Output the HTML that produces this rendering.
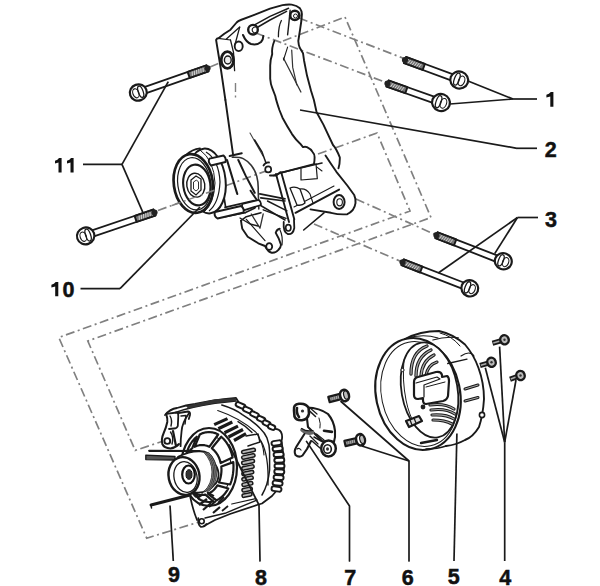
<!DOCTYPE html>
<html><head><meta charset="utf-8"><style>
html,body{margin:0;padding:0;background:#fff;}
svg{display:block;}
text{font-family:"Liberation Sans",sans-serif;font-weight:bold;font-size:21.5px;fill:#111;stroke:#111;stroke-width:0.5px;}
</style></head><body>
<svg width="600" height="586" viewBox="0 0 600 586">
<rect width="600" height="586" fill="#fff"/>
<path d="M283.0,41.0 L345.0,17.0 L431.0,217.5 L87.8,341.0 L135.2,450.4 L162.0,441.5" stroke="#808080" stroke-width="1.7" fill="none" stroke-dasharray="9 3.5 2 3.5" stroke-linecap="butt" stroke-linejoin="miter"/>
<path d="M318.0,154.0 L377.0,133.0 L410.0,211.0 L58.8,337.5 L146.7,538.2 L199.0,522.0" stroke="#808080" stroke-width="1.7" fill="none" stroke-dasharray="9 3.5 2 3.5" stroke-linecap="butt" stroke-linejoin="miter"/>
<path d="M299.0,18.0 L404.0,58.5" stroke="#808080" stroke-width="1.7" fill="none" stroke-dasharray="9 3.5 2 3.5" stroke-linecap="butt" stroke-linejoin="miter"/>
<path d="M256.0,33.0 L386.0,82.5" stroke="#808080" stroke-width="1.7" fill="none" stroke-dasharray="9 3.5 2 3.5" stroke-linecap="butt" stroke-linejoin="miter"/>
<path d="M356.0,199.0 L435.0,234.5" stroke="#808080" stroke-width="1.7" fill="none" stroke-dasharray="9 3.5 2 3.5" stroke-linecap="butt" stroke-linejoin="miter"/>
<path d="M314.0,224.0 L401.0,261.5" stroke="#808080" stroke-width="1.7" fill="none" stroke-dasharray="9 3.5 2 3.5" stroke-linecap="butt" stroke-linejoin="miter"/>
<path d="M158.0,210.5 L266.0,171.0" stroke="#808080" stroke-width="1.7" fill="none" stroke-dasharray="9 3.5 2 3.5" stroke-linecap="butt" stroke-linejoin="miter"/>
<path d="M210.0,67.0 L222.0,62.0" stroke="#808080" stroke-width="1.7" fill="none" stroke-dasharray="9 3.5 2 3.5" stroke-linecap="butt" stroke-linejoin="miter"/>
<path d="M225.4,100 L221,70 L216.1,40 Q217,38 218.5,38.2 L224.3,33.8 L230.5,29.7 L236.6,22.5 Q238,21 240.7,20 L253,15.4 L270,8.7 L282.5,5.1 Q287,4.3 291.7,4.6 Q297,5.5 299.9,8.2 Q302,11 301.9,14.3 L301.4,20.5 L299.9,30.7 L298.3,41 Q298.5,45 299.9,48.1 L303,53.2 L304,60.2 L307,75.6 L311.1,91 L313.9,100 L316.6,112.3 L323.4,124.6 L333,145 Q336,148 339.8,157.3 Q340,163 338.5,168.3" stroke="#1a1a1a" stroke-width="1.9" fill="none" stroke-linejoin="round" stroke-linecap="round" />
<path d="M225.4,100 L233.2,155.6" stroke="#1a1a1a" stroke-width="1.9" fill="none" stroke-linejoin="round" stroke-linecap="round" />
<path d="M255,24.6 L270,16.4 L288.6,8.2" stroke="#1a1a1a" stroke-width="1.5" fill="none" stroke-linejoin="round" stroke-linecap="round" />
<path d="M258,27 L270,20 L286.6,11.3" stroke="#1a1a1a" stroke-width="1.5" fill="none" stroke-linejoin="round" stroke-linecap="round" />
<path d="M218.2,38.4 L230.5,40" stroke="#1a1a1a" stroke-width="1.1" fill="none" stroke-linejoin="round" stroke-linecap="round" />
<path d="M239.7,27.1 L226.4,38.9" stroke="#1a1a1a" stroke-width="1.3" fill="none" stroke-linejoin="round" stroke-linecap="round" />
<path d="M239.7,27.1 L234.6,46" stroke="#1a1a1a" stroke-width="1.3" fill="none" stroke-linejoin="round" stroke-linecap="round" />
<path d="M230.5,40 L233.5,52.3 L234.6,70.7" stroke="#1a1a1a" stroke-width="1.3" fill="none" stroke-linejoin="round" stroke-linecap="round" />
<path d="M235.5,83.0 L235.5,100.0" stroke="#808080" stroke-width="1.4" fill="none" stroke-dasharray="9 3.5 2 3.5" stroke-linecap="butt" stroke-linejoin="miter"/>
<path d="M243,35 Q246,42 251,44 Q257,45.5 261,42 Q263.5,39 263.2,36" stroke="#1a1a1a" stroke-width="2.0" fill="none" stroke-linejoin="round" stroke-linecap="round" />
<ellipse cx="253" cy="29.7" rx="4.8" ry="4.8" fill="#fff" stroke="#1a1a1a" stroke-width="2.4"/>
<path d="M256.5,27 Q254,26.5 252.5,28.5 Q251.5,31 253.5,32.5 Q255,33 256.5,32.3" fill="none" stroke="#1a1a1a" stroke-width="1.1"/>
<ellipse cx="294.8" cy="15.4" rx="4.6" ry="4.6" fill="#fff" stroke="#1a1a1a" stroke-width="2.6"/>
<ellipse cx="295.5" cy="16" rx="2.0" ry="2.0" fill="#fff" stroke="#1a1a1a" stroke-width="1.0"/>
<ellipse cx="238.7" cy="46.3" rx="4" ry="4.8" fill="#fff" stroke="#1a1a1a" stroke-width="1.9"/>
<ellipse cx="227.4" cy="60" rx="6.2" ry="8.4" fill="#fff" stroke="#1a1a1a" stroke-width="2.8"/>
<ellipse cx="227.8" cy="60" rx="3.4" ry="4" fill="#eee" stroke="#1a1a1a" stroke-width="1.4"/>
<path d="M290.1,10.2 L289,22 L287.6,34.8" stroke="#1a1a1a" stroke-width="1.4" fill="none" stroke-linejoin="round" stroke-linecap="round" />
<path d="M281.4,20.5 Q278.4,26 278.4,36.8" stroke="#1a1a1a" stroke-width="1.3" fill="none" stroke-linejoin="round" stroke-linecap="round" />
<path d="M274.3,41 Q271.5,48 272.2,54.1 Q270.2,60 270.2,65.4 L270.2,78.7 Q270.6,84 272.2,87.9 L275.3,96 Q276,100 279.4,110 Q281,114 282.5,117.7 Q287,126 292,134.1 Q296,140 300.2,143.7 L303,147.1 Q305,146.5 307,147.1 Q311,149 312.5,151.9 Q314.6,154 314.6,157.3 Q314.6,161 313.9,164.2 L282.5,172.4" stroke="#1a1a1a" stroke-width="1.9" fill="none" stroke-linejoin="round" stroke-linecap="round" />
<path d="M283.5,58.2 L300.9,92" stroke="#333" stroke-width="1.3" fill="none" stroke-linejoin="round" stroke-linecap="round" />
<path d="M291.7,50 L292.7,67.4 L296.8,84.8" stroke="#333" stroke-width="1.2" fill="none" stroke-linejoin="round" stroke-linecap="round" />
<path d="M283.5,60 L287.6,47.1" stroke="#1a1a1a" stroke-width="1.1" fill="none" stroke-linejoin="round" stroke-linecap="round" />
<path d="M250,133 L263,156" stroke="#444" stroke-width="1.1" fill="none" stroke-linejoin="round" stroke-linecap="round" />
<path d="M325.5,155.5 Q331,164 336.4,171.8 L347.3,185.5 L354.2,195 Q356,199 355.5,203.2 Q355,207 352.8,210 Q350,213 347.3,214.2 Q340,215 331,212.8 L310.5,209.4" stroke="#1a1a1a" stroke-width="1.9" fill="none" stroke-linejoin="round" stroke-linecap="round" />
<ellipse cx="339.1" cy="202" rx="5.5" ry="7" fill="#fff" stroke="#1a1a1a" stroke-width="2.0"/>
<ellipse cx="339.6" cy="202.3" rx="2.8" ry="3.6" fill="#fff" stroke="#1a1a1a" stroke-width="1.1"/>
<path d="M295.5,212.8 L339.1,189.6" stroke="#1a1a1a" stroke-width="2.0" fill="none" stroke-linejoin="round" stroke-linecap="round" />
<path d="M294,207 L334,186" stroke="#1a1a1a" stroke-width="1.1" fill="none" stroke-linejoin="round" stroke-linecap="round" />
<path d="M324,212.8 L303.7,230" stroke="#1a1a1a" stroke-width="1.6" fill="none" stroke-linejoin="round" stroke-linecap="round" />
<path d="M282.5,172.4 L290,170.5 L313.2,165 L322,163" stroke="#1a1a1a" stroke-width="1.6" fill="none" stroke-linejoin="round" stroke-linecap="round" />
<path d="M301,169 L301,180 L317.3,178.7 L316,163.7" stroke="#1a1a1a" stroke-width="1.2" fill="none" stroke-linejoin="round" stroke-linecap="round" />
<path d="M316.6,166.9 L322,171" stroke="#1a1a1a" stroke-width="1.1" fill="none" stroke-linejoin="round" stroke-linecap="round" />
<path d="M276,173.9 L289,222" stroke="#1a1a1a" stroke-width="1.9" fill="none" stroke-linejoin="round" stroke-linecap="round" />
<path d="M281.2,172.2 L294.3,219.3" stroke="#1a1a1a" stroke-width="1.9" fill="none" stroke-linejoin="round" stroke-linecap="round" />
<path d="M290,188 Q295,186 300,189 L305,203 Q302,206 297,205 Z" stroke="#1a1a1a" stroke-width="1.3" fill="#fff" stroke-linejoin="round" stroke-linecap="round" />
<path d="M300,189 Q306,188 310,194 L313,203" stroke="#1a1a1a" stroke-width="1.1" fill="none" stroke-linejoin="round" stroke-linecap="round" />
<path d="M241,220.7 Q241.5,225 242.3,228.7 L247.7,236.7 L258.3,243.3 L265,246 Q268,252 271.7,252.7 Q276,253 278.3,250 Q281,247 281,244.7 Q279,238 275.7,232.7 Q277,229 279.7,228.7" stroke="#1a1a1a" stroke-width="1.9" fill="none" stroke-linejoin="round" stroke-linecap="round" />
<path d="M241,220.7 L246.3,216.7 L261,212.7" stroke="#1a1a1a" stroke-width="1.5" fill="none" stroke-linejoin="round" stroke-linecap="round" />
<path d="M246.3,219.3 L265,240.7" stroke="#1a1a1a" stroke-width="1.2" fill="none" stroke-linejoin="round" stroke-linecap="round" />
<path d="M251.3,214 L260,228.2 L263.2,214" stroke="#333" stroke-width="1.3" fill="none" stroke-linejoin="round" stroke-linecap="round" />
<path d="M267.5,201 L287,210.8" stroke="#1a1a1a" stroke-width="1.4" fill="none" stroke-linejoin="round" stroke-linecap="round" />
<path d="M263.2,209.8 L286,218.4" stroke="#1a1a1a" stroke-width="1.4" fill="none" stroke-linejoin="round" stroke-linecap="round" />
<ellipse cx="269.2" cy="246.5" rx="3" ry="3.4" fill="#fff" stroke="#1a1a1a" stroke-width="1.8"/>
<path d="M283.7,222 Q283,232 287.7,234 Q293,235 294.3,228 L294,220" stroke="#1a1a1a" stroke-width="1.8" fill="none" stroke-linejoin="round" stroke-linecap="round" />
<ellipse cx="288.3" cy="227.8" rx="2.6" ry="3.2" fill="#fff" stroke="#1a1a1a" stroke-width="1.6"/>
<path d="M280,230 Q283,236 282,245" stroke="#1a1a1a" stroke-width="1.2" fill="none" stroke-linejoin="round" stroke-linecap="round" />
<path d="M225,207.3 L254.3,200.7" stroke="#1a1a1a" stroke-width="1.7" fill="none" stroke-linejoin="round" stroke-linecap="round" />
<path d="M225,216.7 L245,212.7" stroke="#1a1a1a" stroke-width="1.7" fill="none" stroke-linejoin="round" stroke-linecap="round" />
<path d="M254.3,200.7 Q257,204 255,208 L245,212.7" stroke="#1a1a1a" stroke-width="1.5" fill="none" stroke-linejoin="round" stroke-linecap="round" />
<ellipse cx="268.2" cy="169.4" rx="3" ry="3" fill="#fff" stroke="#1a1a1a" stroke-width="1.7"/>
<path d="M254.6,140 L262,152 L266,163" stroke="#1a1a1a" stroke-width="1.5" fill="none" stroke-linejoin="round" stroke-linecap="round" />
<path d="M273.7,175.5 L282.5,172.4" stroke="#1a1a1a" stroke-width="1.5" fill="none" stroke-linejoin="round" stroke-linecap="round" />
<path d="M218.6,162.7 Q222,185 225.5,206.4" stroke="#1a1a1a" stroke-width="1.7" fill="none" stroke-linejoin="round" stroke-linecap="round" />
<path d="M227,160 L233.2,180.5 L236.3,190.7 L237.3,194" stroke="#1a1a1a" stroke-width="2.1" fill="none" stroke-linejoin="round" stroke-linecap="round" />
<path d="M238.3,160 L245.5,175.4 L252.6,188.7 L254.7,192.8" stroke="#1a1a1a" stroke-width="2.0" fill="none" stroke-linejoin="round" stroke-linecap="round" />
<path d="M232.3,157.3 Q240,157 243.2,158.6 Q248,161 251.4,165.5 Q255,170 256.8,176.4 Q258.5,183 258.2,190 L258.8,209" stroke="#333" stroke-width="1.6" fill="none" stroke-linejoin="round" stroke-linecap="round" />
<path d="M229.6,156 L241.8,153.2" stroke="#1a1a1a" stroke-width="1.9" fill="none" stroke-linejoin="round" stroke-linecap="round" />
<path d="M250.6,190.7 L258.8,203" stroke="#1a1a1a" stroke-width="2.0" fill="none" stroke-linejoin="round" stroke-linecap="round" />
<path d="M259.8,193.8 L285,198.9" stroke="#1a1a1a" stroke-width="1.7" fill="none" stroke-linejoin="round" stroke-linecap="round" />
<path d="M260.8,197.9 L285,201" stroke="#1a1a1a" stroke-width="1.7" fill="none" stroke-linejoin="round" stroke-linecap="round" />
<path d="M259.8,205 L285,220" stroke="#1a1a1a" stroke-width="1.5" fill="none" stroke-linejoin="round" stroke-linecap="round" />
<path d="M270,175.4 L276.2,175.4 L280.3,172.3" stroke="#1a1a1a" stroke-width="2.0" fill="none" stroke-linejoin="round" stroke-linecap="round" />
<path d="M263.5,165.5 Q265.5,162 269,162.5" stroke="#1a1a1a" stroke-width="1.8" fill="none" stroke-linejoin="round" stroke-linecap="round" />
<path d="M242.4,204 L258.8,200 Q261.5,202 260.8,205 L244.4,210.2 Q241,208 242.4,204 Z" stroke="#1a1a1a" stroke-width="1.8" fill="#fff" stroke-linejoin="round" stroke-linecap="round" />
<path d="M240,218 L250,224 L258,226" stroke="#1a1a1a" stroke-width="1.3" fill="none" stroke-linejoin="round" stroke-linecap="round" />
<ellipse cx="207" cy="181" rx="18.6" ry="32.5" transform="rotate(-6 207 181)" fill="#fff" stroke="#1a1a1a" stroke-width="2.0"/>
<path d="M206,152 Q219,160 220,182 Q219,203 209,211" fill="none" stroke="#1a1a1a" stroke-width="1.2"/>
<path d="M200,150 Q214,160 215,183 Q214,204 204,212" fill="none" stroke="#1a1a1a" stroke-width="1.0"/>
<path d="M186,155 Q192,149.5 200,148.4" stroke="#1a1a1a" stroke-width="1.8" fill="none" stroke-linejoin="round" stroke-linecap="round" />
<ellipse cx="193.3" cy="183.5" rx="19.5" ry="29.5" transform="rotate(-8 193.3 183.5)" fill="#fff" stroke="#1a1a1a" stroke-width="2.7"/>
<ellipse cx="194.3" cy="183.8" rx="16.5" ry="26.3" transform="rotate(-8 194.3 183.8)" fill="none" stroke="#1a1a1a" stroke-width="1.2"/>
<ellipse cx="196.8" cy="185" rx="13.5" ry="20.5" transform="rotate(-8 196.8 185)" fill="none" stroke="#1a1a1a" stroke-width="2.1"/>
<ellipse cx="195.8" cy="185.2" rx="9" ry="12" transform="rotate(-8 195.8 185.2)" fill="none" stroke="#1a1a1a" stroke-width="1.4"/>
<path d="M191,180 L196,176 L201,179 L201,190 L196,195 L191,191 Z" fill="none" stroke="#1a1a1a" stroke-width="1.3"/>
<path d="M193.5,182 L196.5,180 L198.5,182 L198.5,189 L196,191 L193.5,189 Z" fill="none" stroke="#1a1a1a" stroke-width="0.9"/>
<path d="M209.5,158.6 L223.5,155.5 Q226.5,158 225.5,162 L211,165.5 Q207.5,162 209.5,158.6 Z" stroke="#1a1a1a" stroke-width="1.9" fill="#fff" stroke-linejoin="round" stroke-linecap="round" />
<path d="M215,212 L241,206 Q244.5,208.5 243.5,212.5 L217.5,218.5 Q213.5,216 215,212 Z" stroke="#1a1a1a" stroke-width="1.9" fill="#fff" stroke-linejoin="round" stroke-linecap="round" />
<path d="M172.0,205.5 L215.0,190.0" stroke="#808080" stroke-width="1.5" fill="none" stroke-dasharray="9 3.5 2 3.5" stroke-linecap="butt" stroke-linejoin="miter"/>
<path d="M165,415 Q170,409 177,408 Q186,405 195,404 L211,401 Q224,399 236,398 L240,401 L279,433 Q283,436 281.5,441 Q284,455 284,468 Q283,480 278,489 L272,496 L262,503.5 L257,505 L230,514 L215,520 L204,526 L190,500 Z" fill="#fff"/>
<path d="M165,415 Q170,409 177,408 Q186,405 195,404 L211,401 Q224,399 236,398 L238.5,402" stroke="#1a1a1a" stroke-width="1.8" fill="none" stroke-linejoin="round" stroke-linecap="round" />
<path d="M274,429 Q279,428.5 281,432 Q283,436 281.5,441 Q284,455 284,468 Q283,480 278,489 L272,496 L262,503.5 L257,505 L230,514 L215,520 L204,526" stroke="#1a1a1a" stroke-width="1.8" fill="none" stroke-linejoin="round" stroke-linecap="round" />
<rect x="235.5" y="403.2" width="10.0" height="4.6" rx="2.3" transform="rotate(24.0 240.5 405.5)" fill="#fff" stroke="#1a1a1a" stroke-width="2.0"/>
<rect x="242.8" y="407.7" width="9.5" height="4.6" rx="2.3" transform="rotate(24.0 247.5 410.0)" fill="#fff" stroke="#1a1a1a" stroke-width="2.0"/>
<rect x="250.0" y="412.2" width="9.0" height="4.6" rx="2.3" transform="rotate(24.0 254.5 414.5)" fill="#fff" stroke="#1a1a1a" stroke-width="2.0"/>
<rect x="256.8" y="416.7" width="8.5" height="4.6" rx="2.3" transform="rotate(24.0 261.0 419.0)" fill="#fff" stroke="#1a1a1a" stroke-width="2.0"/>
<rect x="262.5" y="421.0" width="8.0" height="4.6" rx="2.3" transform="rotate(24.0 266.5 423.3)" fill="#fff" stroke="#1a1a1a" stroke-width="2.0"/>
<rect x="267.8" y="424.7" width="7.5" height="4.6" rx="2.3" transform="rotate(24.0 271.5 427.0)" fill="#fff" stroke="#1a1a1a" stroke-width="2.0"/>
<rect x="271.5" y="440.7" width="10.0" height="4.6" rx="2.3" transform="rotate(-8.0 276.5 443.0)" fill="#fff" stroke="#1a1a1a" stroke-width="1.9"/>
<rect x="272.6" y="446.4" width="10.0" height="4.6" rx="2.3" transform="rotate(-6.0 277.6 448.8)" fill="#fff" stroke="#1a1a1a" stroke-width="1.9"/>
<rect x="273.6" y="452.2" width="10.0" height="4.6" rx="2.3" transform="rotate(-4.0 278.6 454.5)" fill="#fff" stroke="#1a1a1a" stroke-width="1.9"/>
<rect x="274.3" y="457.9" width="10.0" height="4.6" rx="2.3" transform="rotate(-2.0 279.3 460.2)" fill="#fff" stroke="#1a1a1a" stroke-width="1.9"/>
<rect x="274.5" y="463.7" width="10.0" height="4.6" rx="2.3" transform="rotate(0.0 279.5 466.0)" fill="#fff" stroke="#1a1a1a" stroke-width="1.9"/>
<rect x="274.3" y="469.4" width="10.0" height="4.6" rx="2.3" transform="rotate(2.0 279.3 471.8)" fill="#fff" stroke="#1a1a1a" stroke-width="1.9"/>
<rect x="273.6" y="475.2" width="10.0" height="4.6" rx="2.3" transform="rotate(4.0 278.6 477.5)" fill="#fff" stroke="#1a1a1a" stroke-width="1.9"/>
<rect x="272.6" y="480.9" width="10.0" height="4.6" rx="2.3" transform="rotate(6.0 277.6 483.2)" fill="#fff" stroke="#1a1a1a" stroke-width="1.9"/>
<rect x="271.5" y="486.7" width="10.0" height="4.6" rx="2.3" transform="rotate(8.0 276.5 489.0)" fill="#fff" stroke="#1a1a1a" stroke-width="1.9"/>
<path d="M221.8,405 Q235,409 242.3,414.6 Q253,421 260,428.2 Q265,433 266.9,437.8 Q269.6,445 269.6,451.4 L269.6,470 Q268,485 262,495" stroke="#1a1a1a" stroke-width="1.5" fill="none" stroke-linejoin="round" stroke-linecap="round" />
<path d="M217.7,410.5 Q240,418 256,432.3 Q263,442 264,455" stroke="#1a1a1a" stroke-width="1.1" fill="none" stroke-linejoin="round" stroke-linecap="round" />
<path d="M261,441 Q269,455 268,485" stroke="#1a1a1a" stroke-width="1.3" fill="none" stroke-linejoin="round" stroke-linecap="round" />
<line x1="214.2" y1="424.6" x2="227.5" y2="418.6" stroke="#1a1a1a" stroke-width="3.2" />
<line x1="218.3" y1="428.7" x2="232.3" y2="422.0" stroke="#1a1a1a" stroke-width="3.2" />
<line x1="224.5" y1="432.8" x2="238.0" y2="426.1" stroke="#1a1a1a" stroke-width="3.2" />
<line x1="228.5" y1="437.0" x2="243.0" y2="429.5" stroke="#1a1a1a" stroke-width="3.2" />
<line x1="234.0" y1="440.5" x2="246.0" y2="433.6" stroke="#1a1a1a" stroke-width="3.2" />
<path d="M246,436 L258,434 L260,442 L248,446" stroke="#1a1a1a" stroke-width="1.5" fill="none" stroke-linejoin="round" stroke-linecap="round" />
<path d="M238,421.6 Q246,426 252,432.5" stroke="#1a1a1a" stroke-width="1.4" fill="none" stroke-linejoin="round" stroke-linecap="round" />
<rect x="241.5" y="449.3" width="14.0" height="3.4" rx="1.7" transform="rotate(-12.0 248.5 451.0)" fill="#bbb" stroke="#1a1a1a" stroke-width="1.5"/>
<rect x="241.6" y="454.8" width="13.5" height="3.4" rx="1.7" transform="rotate(-12.0 248.3 456.5)" fill="#bbb" stroke="#1a1a1a" stroke-width="1.5"/>
<rect x="241.6" y="460.3" width="13.0" height="3.4" rx="1.7" transform="rotate(-12.0 248.1 462.0)" fill="#bbb" stroke="#1a1a1a" stroke-width="1.5"/>
<rect x="241.7" y="465.8" width="12.5" height="3.4" rx="1.7" transform="rotate(-12.0 247.9 467.5)" fill="#bbb" stroke="#1a1a1a" stroke-width="1.5"/>
<rect x="241.8" y="471.3" width="12.0" height="3.4" rx="1.7" transform="rotate(-12.0 247.8 473.0)" fill="#bbb" stroke="#1a1a1a" stroke-width="1.5"/>
<rect x="241.8" y="476.8" width="11.5" height="3.4" rx="1.7" transform="rotate(-12.0 247.6 478.5)" fill="#bbb" stroke="#1a1a1a" stroke-width="1.5"/>
<rect x="241.9" y="482.3" width="11.0" height="3.4" rx="1.7" transform="rotate(-12.0 247.4 484.0)" fill="#bbb" stroke="#1a1a1a" stroke-width="1.5"/>
<rect x="241.9" y="487.8" width="10.5" height="3.4" rx="1.7" transform="rotate(-12.0 247.2 489.5)" fill="#bbb" stroke="#1a1a1a" stroke-width="1.5"/>
<rect x="242.0" y="493.3" width="10.0" height="3.4" rx="1.7" transform="rotate(-12.0 247.0 495.0)" fill="#bbb" stroke="#1a1a1a" stroke-width="1.5"/>
<path d="M166.3,414.4 Q167.8,419 167.3,422 Q166,428 163.7,433 Q161,439 162.3,444 Q164,448 170.5,448.5 Q176,447.5 179,444" stroke="#1a1a1a" stroke-width="2.0" fill="none" stroke-linejoin="round" stroke-linecap="round" />
<circle cx="167.3" cy="441" r="2.9" fill="#fff" stroke="#1a1a1a" stroke-width="1.9"/>
<path d="M166.5,413.8 L176.5,412.5 Q178.5,413 178.3,416 L177.8,426 Q177,428.5 174,428.5 L169,429" stroke="#1a1a1a" stroke-width="1.8" fill="none" stroke-linejoin="round" stroke-linecap="round" />
<path d="M170,416 Q172.5,420 171,426" stroke="#1a1a1a" stroke-width="1.4" fill="none" stroke-linejoin="round" stroke-linecap="round" />
<path d="M178.5,413 L188,411.5 Q190.5,412 190,415 L188.8,419" stroke="#1a1a1a" stroke-width="1.8" fill="none" stroke-linejoin="round" stroke-linecap="round" />
<path d="M181,416 L186,415.5 L185,424" stroke="#1a1a1a" stroke-width="1.5" fill="none" stroke-linejoin="round" stroke-linecap="round" />
<path d="M188.8,413.4 Q182,423 181.6,431 Q180.5,440 180.6,446.2" stroke="#1a1a1a" stroke-width="1.8" fill="none" stroke-linejoin="round" stroke-linecap="round" />
<path d="M173,431 L176,446" stroke="#1a1a1a" stroke-width="2.2" fill="none" stroke-linejoin="round" stroke-linecap="round" />
<path d="M170.5,432 Q174,437 172,444" stroke="#1a1a1a" stroke-width="1.4" fill="none" stroke-linejoin="round" stroke-linecap="round" />
<path d="M175.5,412.4 Q190,407 215,403.2 L236,401" stroke="#1a1a1a" stroke-width="1.6" fill="none" stroke-linejoin="round" stroke-linecap="round" />
<path d="M186,406 L215,399.3 L236,398.2 L236,401 L215,403.2 L188,408.5 Z" fill="#333"/>
<ellipse cx="209" cy="467" rx="28" ry="39" fill="#fff" stroke="#1a1a1a" stroke-width="2.2"/>
<ellipse cx="208" cy="468" rx="23" ry="33" fill="none" stroke="#1a1a1a" stroke-width="1.1"/>
<path d="M186.0,455.0 L187.1,451.3 L188.5,447.8 L190.2,444.5 L192.2,441.5 L194.4,438.9 L196.8,436.7 L192.2,448.3 L190.4,449.9 L188.6,451.8 L187.1,453.9 L185.7,456.3 L184.6,458.8 L183.7,461.4 Z" stroke="#1a1a1a" stroke-width="2.2" fill="#fff" stroke-linejoin="round" stroke-linecap="round" />
<path d="M199.8,434.5 L202.8,433.1 L205.9,432.3 L209.0,432.0 L212.1,432.3 L215.2,433.1 L218.2,434.5 L209.3,446.8 L206.9,445.8 L204.5,445.2 L202.0,445.0 L199.5,445.2 L197.1,445.8 L194.7,446.8 Z" stroke="#1a1a1a" stroke-width="2.2" fill="#fff" stroke-linejoin="round" stroke-linecap="round" />
<path d="M221.2,436.7 L223.9,439.2 L226.2,442.1 L228.3,445.5 L230.1,449.1 L231.5,453.1 L232.6,457.4 L220.7,463.1 L219.9,460.1 L218.8,457.2 L217.4,454.6 L215.7,452.2 L213.8,450.1 L211.8,448.3 Z" stroke="#1a1a1a" stroke-width="2.2" fill="#fff" stroke-linejoin="round" stroke-linecap="round" />
<path d="M233.3,462.1 L233.5,466.0 L233.4,469.8 L233.0,473.7 L232.4,477.4 L231.4,481.0 L230.2,484.5 L218.9,482.5 L219.9,480.0 L220.6,477.4 L221.1,474.8 L221.4,472.0 L221.5,469.3 L221.3,466.5 Z" stroke="#1a1a1a" stroke-width="2.2" fill="#fff" stroke-linejoin="round" stroke-linecap="round" />
<path d="M228.3,488.5 L226.7,491.2 L225.0,493.5 L223.1,495.7 L221.0,497.5 L218.8,499.1 L216.6,500.3 L208.0,493.8 L209.8,492.9 L211.6,491.8 L213.2,490.5 L214.7,489.0 L216.1,487.3 L217.4,485.4 Z" stroke="#1a1a1a" stroke-width="2.2" fill="#fff" stroke-linejoin="round" stroke-linecap="round" />
<path d="M213.3,501.5 L210.9,501.9 L208.4,502.0 L206.0,501.7 L203.6,501.1 L201.3,500.2 L199.0,499.0 L194.1,492.8 L195.9,493.7 L197.7,494.4 L199.6,494.8 L201.5,495.0 L203.5,494.9 L205.4,494.6 Z" stroke="#1a1a1a" stroke-width="2.2" fill="#fff" stroke-linejoin="round" stroke-linecap="round" />
<path d="M196.0,496.7 L194.4,495.1 L192.8,493.3 L191.4,491.3 L190.0,489.2 L188.8,486.9 L187.8,484.5 L185.1,482.5 L186.0,484.2 L186.9,485.8 L188.0,487.4 L189.1,488.8 L190.4,490.1 L191.7,491.2 Z" stroke="#1a1a1a" stroke-width="2.2" fill="#fff" stroke-linejoin="round" stroke-linecap="round" />
<path d="M178,456.7 Q190,451 199.4,451.3 Q204,451 207.8,453 Q213,457 215,464 Q219,470 218.5,475.8 Q218,482 213.8,485.4 Q211,489 207.8,490 Q202,493 197,492.6 L184,492.6" stroke="#1a1a1a" stroke-width="1.8" fill="#fff" stroke-linejoin="round" stroke-linecap="round" />
<path d="M204,452.5 Q212,461 212,472 Q212,484 204,491.5 L209,490.5 Q216.5,484 216.5,473 Q216.5,461 209,453 Z" fill="#888"/>
<path d="M204.0,452.5 Q212.0,461 212.0,472 Q212.0,484 204.0,491.5" stroke="#333" stroke-width="0.9" fill="none" stroke-linejoin="round" stroke-linecap="round" />
<path d="M205.6,452.5 Q213.6,461 213.6,472 Q213.6,484 205.6,491.5" stroke="#333" stroke-width="0.9" fill="none" stroke-linejoin="round" stroke-linecap="round" />
<path d="M207.2,452.5 Q215.2,461 215.2,472 Q215.2,484 207.2,491.5" stroke="#333" stroke-width="0.9" fill="none" stroke-linejoin="round" stroke-linecap="round" />
<path d="M208.8,452.5 Q216.8,461 216.8,472 Q216.8,484 208.8,491.5" stroke="#333" stroke-width="0.9" fill="none" stroke-linejoin="round" stroke-linecap="round" />
<path d="M149.2,450.8 L199.4,451" stroke="#1a1a1a" stroke-width="2.2" fill="none" stroke-linejoin="round" stroke-linecap="round" />
<path d="M145.8,455.2 L175,456.5 L175,460 L145.8,459.6 Z" stroke="#1a1a1a" stroke-width="1.3" fill="#555" stroke-linejoin="round" stroke-linecap="round" />
<ellipse cx="184" cy="476" rx="15.4" ry="19" transform="rotate(-12 184 476)" fill="#fff" stroke="#1a1a1a" stroke-width="2.4"/>
<ellipse cx="185.5" cy="477" rx="11.5" ry="15.5" transform="rotate(-12 185.5 477)" fill="none" stroke="#1a1a1a" stroke-width="1.3"/>
<ellipse cx="188.5" cy="474.5" rx="6.3" ry="9" fill="#fff" stroke="#111" stroke-width="2.2"/>
<ellipse cx="189" cy="474.5" rx="3" ry="4.8" fill="#333" stroke="#111" stroke-width="1"/>
<path d="M151,505 L190,495" stroke="#1a1a1a" stroke-width="3.0" fill="none" stroke-linejoin="round" stroke-linecap="round" />
<path d="M151.0,505.0 L151.5,508.0" stroke="#1a1a1a" stroke-width="1.5" fill="none" stroke-linejoin="round" stroke-linecap="round" />
<path d="M190.3,497.3 Q193,510 197,520" stroke="#1a1a1a" stroke-width="1.7" fill="none" stroke-linejoin="round" stroke-linecap="round" />
<circle cx="201.7" cy="521.3" r="2.5" fill="#fff" stroke="#1a1a1a" stroke-width="1.6"/>
<path d="M198.3,518 Q197.5,525 201,527 Q205,527 206.3,524" stroke="#1a1a1a" stroke-width="1.7" fill="none" stroke-linejoin="round" stroke-linecap="round" />
<path d="M205,518 L225,513.3 L257,500" stroke="#1a1a1a" stroke-width="1.4" fill="none" stroke-linejoin="round" stroke-linecap="round" />
<path d="M231.7,504 L255.7,498.7" stroke="#1a1a1a" stroke-width="1.2" fill="none" stroke-linejoin="round" stroke-linecap="round" />
<line x1="197.0" y1="498.0" x2="203.0" y2="494.0" stroke="#1a1a1a" stroke-width="2.4" />
<line x1="199.0" y1="505.0" x2="207.0" y2="499.0" stroke="#1a1a1a" stroke-width="2.4" />
<line x1="203.0" y1="510.0" x2="211.0" y2="503.0" stroke="#1a1a1a" stroke-width="2.2" />
<line x1="209.0" y1="507.0" x2="216.0" y2="501.0" stroke="#1a1a1a" stroke-width="2.0" />
<line x1="213.0" y1="513.0" x2="220.0" y2="507.0" stroke="#1a1a1a" stroke-width="2.2" />
<line x1="218.0" y1="503.0" x2="224.0" y2="497.0" stroke="#1a1a1a" stroke-width="2.0" />
<line x1="222.0" y1="511.0" x2="228.0" y2="506.0" stroke="#1a1a1a" stroke-width="1.8" />
<line x1="207.0" y1="492.0" x2="214.0" y2="496.0" stroke="#1a1a1a" stroke-width="1.8" />
<path d="M405,339 Q420,331 439,331 Q453,334 465,344.5 Q474,355 478.5,368 Q484,383 484,399 Q483,415 479,427 Q473,437 465,440 Q456,445 446,446" stroke="#1a1a1a" stroke-width="1.9" fill="#fff" stroke-linejoin="round" stroke-linecap="round" />
<ellipse cx="418" cy="394" rx="42" ry="56.5" transform="rotate(-12 418 394)" fill="#fff" stroke="#1a1a1a" stroke-width="2.1"/>
<ellipse cx="419.5" cy="394" rx="38" ry="53" transform="rotate(-12 419.5 394)" fill="none" stroke="#1a1a1a" stroke-width="1.0"/>
<ellipse cx="429.5" cy="390" rx="28" ry="48" transform="rotate(-10 429.5 390)" fill="#fff" stroke="#1a1a1a" stroke-width="1.8"/>
<path d="M404,360 Q402,380 406,400 Q409,415 415,425" stroke="#1a1a1a" stroke-width="1.0" fill="none" stroke-linejoin="round" stroke-linecap="round" />
<circle cx="402.5" cy="370" r="1.6" fill="#fff" stroke="#1a1a1a" stroke-width="1"/>
<path d="M405,339 Q422,333 438,338" stroke="#1a1a1a" stroke-width="1.2" fill="none" stroke-linejoin="round" stroke-linecap="round" />
<path d="M426,449 Q438,449 446,446" stroke="#1a1a1a" stroke-width="1.5" fill="none" stroke-linejoin="round" stroke-linecap="round" />
<path d="M440,333 Q452,336 460,346" stroke="#1a1a1a" stroke-width="1.0" fill="none" stroke-linejoin="round" stroke-linecap="round" />
<path d="M465,389 L478,385" stroke="#1a1a1a" stroke-width="3.0" fill="none" stroke-linejoin="round" stroke-linecap="round" />
<path d="M465,389 L478,385" stroke="#aaa" stroke-width="1.0" fill="none" stroke-linejoin="round" stroke-linecap="round" />
<path d="M465,401 L478,397.5" stroke="#1a1a1a" stroke-width="3.0" fill="none" stroke-linejoin="round" stroke-linecap="round" />
<path d="M465,401 L478,397.5" stroke="#aaa" stroke-width="1.0" fill="none" stroke-linejoin="round" stroke-linecap="round" />
<path d="M461,356 Q470,350 474,356" stroke="#1a1a1a" stroke-width="1.2" fill="none" stroke-linejoin="round" stroke-linecap="round" />
<circle cx="482" cy="415" r="2.6" fill="#fff" stroke="#1a1a1a" stroke-width="1.6"/>
<path d="M411,374 Q411,352 427,346" stroke="#1a1a1a" stroke-width="3.3" fill="none" stroke-linejoin="round" stroke-linecap="round" />
<path d="M411,374 Q411,352 427,346" stroke="#aaa" stroke-width="1.2999999999999998" fill="none" stroke-linejoin="round" stroke-linecap="round" />
<path d="M416,376 Q416,357 431,350" stroke="#1a1a1a" stroke-width="3.3" fill="none" stroke-linejoin="round" stroke-linecap="round" />
<path d="M416,376 Q416,357 431,350" stroke="#aaa" stroke-width="1.2999999999999998" fill="none" stroke-linejoin="round" stroke-linecap="round" />
<path d="M421,376 Q422,361 434,355" stroke="#1a1a1a" stroke-width="3.3" fill="none" stroke-linejoin="round" stroke-linecap="round" />
<path d="M421,376 Q422,361 434,355" stroke="#aaa" stroke-width="1.2999999999999998" fill="none" stroke-linejoin="round" stroke-linecap="round" />
<path d="M426,375 Q428,365 437,362" stroke="#1a1a1a" stroke-width="3.1" fill="none" stroke-linejoin="round" stroke-linecap="round" />
<path d="M426,375 Q428,365 437,362" stroke="#aaa" stroke-width="1.1" fill="none" stroke-linejoin="round" stroke-linecap="round" />
<path d="M414,382 Q414,378 418,377 L436,372 Q441,371 442,375 L442,377 L447,376 Q449,377 449,381 L448,396 Q447,400 443,401 L426,404 Q423,404 423,400 L423,398 L418,399 Q414,399 414,395 Z" stroke="#1a1a1a" stroke-width="2.2" fill="#fff" stroke-linejoin="round" stroke-linecap="round" />
<path d="M416,383 L437,377 L440,379 L424,385 L424,397" stroke="#1a1a1a" stroke-width="1.2" fill="none" stroke-linejoin="round" stroke-linecap="round" />
<path d="M426,387 L445,382" stroke="#1a1a1a" stroke-width="1.0" fill="none" stroke-linejoin="round" stroke-linecap="round" />
<circle cx="423" cy="407" r="2.4" fill="#222"/>
<path d="M430,405 Q445,403 454,409" stroke="#1a1a1a" stroke-width="3.2" fill="none" stroke-linejoin="round" stroke-linecap="round" />
<path d="M430,405 Q445,403 454,409" stroke="#aaa" stroke-width="1.2000000000000002" fill="none" stroke-linejoin="round" stroke-linecap="round" />
<path d="M431,410 Q446,408 455,414" stroke="#1a1a1a" stroke-width="3.2" fill="none" stroke-linejoin="round" stroke-linecap="round" />
<path d="M431,410 Q446,408 455,414" stroke="#aaa" stroke-width="1.2000000000000002" fill="none" stroke-linejoin="round" stroke-linecap="round" />
<path d="M432,415 Q446,414 454,419" stroke="#1a1a1a" stroke-width="3.2" fill="none" stroke-linejoin="round" stroke-linecap="round" />
<path d="M432,415 Q446,414 454,419" stroke="#aaa" stroke-width="1.2000000000000002" fill="none" stroke-linejoin="round" stroke-linecap="round" />
<path d="M433,420 Q445,420 452,424" stroke="#1a1a1a" stroke-width="3.2" fill="none" stroke-linejoin="round" stroke-linecap="round" />
<path d="M433,420 Q445,420 452,424" stroke="#aaa" stroke-width="1.2000000000000002" fill="none" stroke-linejoin="round" stroke-linecap="round" />
<path d="M406,421 L419,416 L422,421 L409,427 Z" stroke="#1a1a1a" stroke-width="2.2" fill="#ddd" stroke-linejoin="round" stroke-linecap="round" />
<path d="M410,420 L412,425 M414,418 L416,423" stroke="#1a1a1a" stroke-width="1.3" fill="none" stroke-linejoin="round" stroke-linecap="round" />
<path d="M421,443 L437,440" stroke="#1a1a1a" stroke-width="2.4" fill="none" stroke-linejoin="round" stroke-linecap="round" />
<path d="M447.7,363.5 L467,359.2" stroke="#1a1a1a" stroke-width="1.3" fill="none" stroke-linejoin="round" stroke-linecap="round" />
<path d="M432.8,340 Q446,336 458.4,337.8" stroke="#1a1a1a" stroke-width="1.1" fill="none" stroke-linejoin="round" stroke-linecap="round" />
<path d="M306.6,407.5 Q320,408 328,414 Q334,421 335,430.8 Q335.5,437 334,441.7 L322,441 L308,427 Q306.5,418 306.6,407.5 Z" stroke="#1a1a1a" stroke-width="2.1" fill="#fff" stroke-linejoin="round" stroke-linecap="round" />
<path d="M307.5,409 L315.5,416.5" stroke="#1a1a1a" stroke-width="1.6" fill="none" stroke-linejoin="round" stroke-linecap="round" />
<path d="M309.5,407.5 L317,414" stroke="#1a1a1a" stroke-width="1.2" fill="none" stroke-linejoin="round" stroke-linecap="round" />
<path d="M324,430.8 L332,431.9" stroke="#1a1a1a" stroke-width="2.6" fill="none" stroke-linejoin="round" stroke-linecap="round" />
<path d="M319,418 Q321,424 320,428" stroke="#1a1a1a" stroke-width="1.0" fill="none" stroke-linejoin="round" stroke-linecap="round" />
<path d="M294,410.5 Q293,404.5 299,403.8 Q306,403 308.6,408 L309,413.5 Q308,419.5 302,420.2 Q296,420.5 294.5,416.5 Z" stroke="#1a1a1a" stroke-width="2.6" fill="#fff" stroke-linejoin="round" stroke-linecap="round" />
<path d="M297,408 Q296,413 299,417" stroke="#1a1a1a" stroke-width="2.6" fill="none" stroke-linejoin="round" stroke-linecap="round" />
<circle cx="302.5" cy="411" r="1.6" fill="#333"/>
<path d="M302,430 Q307,434.5 312.5,432.5" stroke="#666" stroke-width="3.6" fill="none" stroke-linejoin="round" stroke-linecap="round" />
<path d="M301.5,428.5 Q307,432 313,430.5" stroke="#1a1a1a" stroke-width="1.2" fill="none" stroke-linejoin="round" stroke-linecap="round" />
<path d="M304.4,434 L296.5,446.5 Q293.5,451.5 295.5,455 Q299,458 302.5,455.5 L307,449 L311,441" stroke="#1a1a1a" stroke-width="2.1" fill="#fff" stroke-linejoin="round" stroke-linecap="round" />
<path d="M297,449 Q299,447.5 301,450" stroke="#1a1a1a" stroke-width="1.2" fill="none" stroke-linejoin="round" stroke-linecap="round" />
<path d="M314,437 L322,441.5" stroke="#1a1a1a" stroke-width="1.5" fill="none" stroke-linejoin="round" stroke-linecap="round" />
<path d="M312,441 L320,448" stroke="#1a1a1a" stroke-width="1.5" fill="none" stroke-linejoin="round" stroke-linecap="round" />
<ellipse cx="328.5" cy="448.5" rx="7.3" ry="8" fill="#fff" stroke="#1a1a1a" stroke-width="2.5"/>
<ellipse cx="327.5" cy="449" rx="3.8" ry="4.3" fill="#fff" stroke="#1a1a1a" stroke-width="1.6"/>
<ellipse cx="327.5" cy="449" rx="1.5" ry="1.8" fill="#333"/>
<path d="M310,436 L318,444" stroke="#1a1a1a" stroke-width="1.2" fill="none" stroke-linejoin="round" stroke-linecap="round" />
<path d="M316.5,434 L324,440" stroke="#1a1a1a" stroke-width="1.2" fill="none" stroke-linejoin="round" stroke-linecap="round" />
<path d="M329.7,402.1 L345.2,398.1 L343.8,392.9 L328.3,396.9 Z" stroke="#1a1a1a" stroke-width="2.2" fill="#aaa" stroke-linejoin="round" stroke-linecap="round" />
<line x1="331.0" y1="400.6" x2="331.2" y2="397.3" stroke="#555" stroke-width="0.8" />
<line x1="333.2" y1="400.1" x2="333.3" y2="396.7" stroke="#555" stroke-width="0.8" />
<line x1="335.3" y1="399.5" x2="335.5" y2="396.2" stroke="#555" stroke-width="0.8" />
<line x1="337.4" y1="399.0" x2="337.6" y2="395.6" stroke="#555" stroke-width="0.8" />
<line x1="339.6" y1="398.4" x2="339.7" y2="395.1" stroke="#555" stroke-width="0.8" />
<line x1="341.7" y1="397.9" x2="341.9" y2="394.5" stroke="#555" stroke-width="0.8" />
<ellipse cx="344.5" cy="395.5" rx="4.4" ry="5.7" transform="rotate(-14.5 344.5 395.5)" fill="#fff" stroke="#1a1a1a" stroke-width="2.6"/>
<ellipse cx="346.0" cy="395.1" rx="2.3" ry="4.2" transform="rotate(-14.5 346.0 395.1)" fill="#bbb" stroke="#1a1a1a" stroke-width="1.2"/>
<path d="M345.6,446.1 L361.1,442.4 L359.9,437.2 L344.4,440.9 Z" stroke="#1a1a1a" stroke-width="2.2" fill="#aaa" stroke-linejoin="round" stroke-linecap="round" />
<line x1="347.0" y1="444.7" x2="347.3" y2="441.3" stroke="#555" stroke-width="0.8" />
<line x1="349.2" y1="444.2" x2="349.4" y2="440.8" stroke="#555" stroke-width="0.8" />
<line x1="351.3" y1="443.6" x2="351.5" y2="440.3" stroke="#555" stroke-width="0.8" />
<line x1="353.4" y1="443.1" x2="353.7" y2="439.8" stroke="#555" stroke-width="0.8" />
<line x1="355.6" y1="442.6" x2="355.8" y2="439.3" stroke="#555" stroke-width="0.8" />
<line x1="357.7" y1="442.1" x2="358.0" y2="438.8" stroke="#555" stroke-width="0.8" />
<ellipse cx="360.5" cy="439.8" rx="4.4" ry="5.7" transform="rotate(-13.4 360.5 439.8)" fill="#fff" stroke="#1a1a1a" stroke-width="2.6"/>
<ellipse cx="362.1" cy="439.4" rx="2.3" ry="4.2" transform="rotate(-13.4 362.1 439.4)" fill="#bbb" stroke="#1a1a1a" stroke-width="1.2"/>
<line x1="492.5" y1="343.2" x2="504.5" y2="339.8" stroke="#1a1a1a" stroke-width="5.2" />
<line x1="493.3" y1="343.0" x2="502.5" y2="340.3" stroke="#aaa" stroke-width="1.6" />
<ellipse cx="504.5" cy="339.8" rx="4.2" ry="4.6" transform="rotate(-20 504.5 339.8)" fill="#bbb" stroke="#1a1a1a" stroke-width="2.4"/>
<circle cx="504.5" cy="339.8" r="1.2" fill="#333"/>
<line x1="480.0" y1="365.5" x2="491.5" y2="362.3" stroke="#1a1a1a" stroke-width="5.2" />
<line x1="480.8" y1="365.3" x2="489.5" y2="362.8" stroke="#aaa" stroke-width="1.6" />
<ellipse cx="491.5" cy="362.3" rx="4.2" ry="4.6" transform="rotate(-20 491.5 362.3)" fill="#bbb" stroke="#1a1a1a" stroke-width="2.4"/>
<circle cx="491.5" cy="362.3" r="1.2" fill="#333"/>
<line x1="510.0" y1="379.2" x2="520.5" y2="375.5" stroke="#1a1a1a" stroke-width="5.2" />
<line x1="510.8" y1="379.0" x2="518.5" y2="376.0" stroke="#aaa" stroke-width="1.6" />
<ellipse cx="520.5" cy="375.5" rx="4.2" ry="4.6" transform="rotate(-20 520.5 375.5)" fill="#bbb" stroke="#1a1a1a" stroke-width="2.4"/>
<circle cx="520.5" cy="375.5" r="1.2" fill="#333"/>
<path d="M553.4,92.0 L553.4,106.8 L550.3,106.8 L550.3,96.6 Q548.4,97.4 546.4,97.4 L546.4,94.7 Q549.2,94.4 550.8,92.0 Z" fill="#111"/>
<path d="M61.6,158.0 L61.6,172.5 L58.5,172.5 L58.5,162.6 Q57.0,163.4 55.0,163.4 L55.0,160.7 Q57.8,160.4 59.0,158.0 Z" fill="#111"/>
<path d="M73.6,158.0 L73.6,172.5 L70.5,172.5 L70.5,162.6 Q69.0,163.4 67.0,163.4 L67.0,160.7 Q69.8,160.4 71.0,158.0 Z" fill="#111"/>
<path d="M58.3,282.0 L58.3,296.3 L55.2,296.3 L55.2,286.6 Q53.4,287.4 51.4,287.4 L51.4,284.7 Q54.2,284.4 55.7,282.0 Z" fill="#111"/>
<path d="M206.5,65.3 L142.1,87.8 L144.2,93.8 L208.5,71.3 Z" stroke="#1a1a1a" stroke-width="1.8" fill="#fff" stroke-linejoin="round" stroke-linecap="round" />
<path d="M206.5,65.3 L187.6,71.9 L189.7,77.9 L208.5,71.3 Z" stroke="#1a1a1a" stroke-width="1.9" fill="#777" stroke-linejoin="round" stroke-linecap="round" />
<line x1="205.2" y1="66.8" x2="205.5" y2="71.3" stroke="#ddd" stroke-width="0.9" />
<line x1="203.0" y1="67.6" x2="203.3" y2="72.0" stroke="#ddd" stroke-width="0.9" />
<line x1="200.8" y1="68.4" x2="201.1" y2="72.8" stroke="#ddd" stroke-width="0.9" />
<line x1="198.7" y1="69.1" x2="199.0" y2="73.6" stroke="#ddd" stroke-width="0.9" />
<line x1="196.5" y1="69.9" x2="196.8" y2="74.3" stroke="#ddd" stroke-width="0.9" />
<line x1="194.3" y1="70.6" x2="194.6" y2="75.1" stroke="#ddd" stroke-width="0.9" />
<line x1="192.2" y1="71.4" x2="192.4" y2="75.8" stroke="#ddd" stroke-width="0.9" />
<circle cx="207.5" cy="68.3" r="3.1" fill="#222"/>
<ellipse cx="138.3" cy="92.5" rx="8.5" ry="8.1" transform="rotate(160.7 138.3 92.5)" fill="#fff" stroke="#1a1a1a" stroke-width="2.2"/>
<ellipse cx="140.7" cy="91.7" rx="2.4" ry="5.9" transform="rotate(160.7 140.7 91.7)" fill="none" stroke="#1a1a1a" stroke-width="1.3"/>
<ellipse cx="135.9" cy="93.3" rx="3.0" ry="4.7" transform="rotate(160.7 135.9 93.3)" fill="none" stroke="#1a1a1a" stroke-width="1.1"/>
<path d="M153.5,209.5 L89.7,231.2 L91.7,237.2 L155.5,215.5 Z" stroke="#1a1a1a" stroke-width="1.8" fill="#fff" stroke-linejoin="round" stroke-linecap="round" />
<path d="M153.5,209.5 L134.6,216.0 L136.6,221.9 L155.5,215.5 Z" stroke="#1a1a1a" stroke-width="1.9" fill="#777" stroke-linejoin="round" stroke-linecap="round" />
<line x1="152.2" y1="211.0" x2="152.4" y2="215.5" stroke="#ddd" stroke-width="0.9" />
<line x1="150.0" y1="211.8" x2="150.3" y2="216.2" stroke="#ddd" stroke-width="0.9" />
<line x1="147.8" y1="212.5" x2="148.1" y2="217.0" stroke="#ddd" stroke-width="0.9" />
<line x1="145.7" y1="213.2" x2="145.9" y2="217.7" stroke="#ddd" stroke-width="0.9" />
<line x1="143.5" y1="214.0" x2="143.7" y2="218.4" stroke="#ddd" stroke-width="0.9" />
<line x1="141.3" y1="214.7" x2="141.6" y2="219.2" stroke="#ddd" stroke-width="0.9" />
<line x1="139.1" y1="215.5" x2="139.4" y2="219.9" stroke="#ddd" stroke-width="0.9" />
<circle cx="154.5" cy="212.5" r="3.1" fill="#222"/>
<ellipse cx="85.7" cy="235.9" rx="8.8" ry="8.4" transform="rotate(161.2 85.7 235.9)" fill="#fff" stroke="#1a1a1a" stroke-width="2.2"/>
<ellipse cx="88.1" cy="235.1" rx="2.5" ry="6.2" transform="rotate(161.2 88.1 235.1)" fill="none" stroke="#1a1a1a" stroke-width="1.3"/>
<ellipse cx="83.3" cy="236.7" rx="3.1" ry="4.8" transform="rotate(161.2 83.3 236.7)" fill="none" stroke="#1a1a1a" stroke-width="1.1"/>
<path d="M403.9,63.0 L453.0,81.1 L455.2,75.2 L406.1,57.0 Z" stroke="#1a1a1a" stroke-width="1.8" fill="#fff" stroke-linejoin="round" stroke-linecap="round" />
<path d="M403.9,63.0 L422.7,69.9 L424.9,64.0 L406.1,57.0 Z" stroke="#1a1a1a" stroke-width="1.9" fill="#777" stroke-linejoin="round" stroke-linecap="round" />
<line x1="405.9" y1="62.6" x2="408.5" y2="59.0" stroke="#ddd" stroke-width="0.9" />
<line x1="408.0" y1="63.4" x2="410.6" y2="59.8" stroke="#ddd" stroke-width="0.9" />
<line x1="410.2" y1="64.2" x2="412.8" y2="60.6" stroke="#ddd" stroke-width="0.9" />
<line x1="412.3" y1="65.0" x2="414.9" y2="61.4" stroke="#ddd" stroke-width="0.9" />
<line x1="414.5" y1="65.8" x2="417.1" y2="62.2" stroke="#ddd" stroke-width="0.9" />
<line x1="416.6" y1="66.6" x2="419.3" y2="63.0" stroke="#ddd" stroke-width="0.9" />
<line x1="418.8" y1="67.4" x2="421.4" y2="63.8" stroke="#ddd" stroke-width="0.9" />
<circle cx="405.0" cy="60.0" r="3.1" fill="#222"/>
<ellipse cx="459.2" cy="80.0" rx="9.0" ry="8.5" transform="rotate(20.3 459.2 80.0)" fill="#fff" stroke="#1a1a1a" stroke-width="2.2"/>
<ellipse cx="456.9" cy="79.1" rx="2.5" ry="6.3" transform="rotate(20.3 456.9 79.1)" fill="none" stroke="#1a1a1a" stroke-width="1.3"/>
<ellipse cx="461.5" cy="80.9" rx="3.1" ry="5.0" transform="rotate(20.3 461.5 80.9)" fill="none" stroke="#1a1a1a" stroke-width="1.1"/>
<path d="M386.4,86.5 L434.9,103.7 L437.0,97.7 L388.6,80.5 Z" stroke="#1a1a1a" stroke-width="1.8" fill="#fff" stroke-linejoin="round" stroke-linecap="round" />
<path d="M386.4,86.5 L405.3,93.2 L407.4,87.2 L388.6,80.5 Z" stroke="#1a1a1a" stroke-width="1.9" fill="#777" stroke-linejoin="round" stroke-linecap="round" />
<line x1="388.4" y1="86.1" x2="391.0" y2="82.4" stroke="#ddd" stroke-width="0.9" />
<line x1="390.5" y1="86.9" x2="393.1" y2="83.2" stroke="#ddd" stroke-width="0.9" />
<line x1="392.7" y1="87.6" x2="395.3" y2="84.0" stroke="#ddd" stroke-width="0.9" />
<line x1="394.9" y1="88.4" x2="397.5" y2="84.8" stroke="#ddd" stroke-width="0.9" />
<line x1="397.1" y1="89.2" x2="399.6" y2="85.5" stroke="#ddd" stroke-width="0.9" />
<line x1="399.2" y1="89.9" x2="401.8" y2="86.3" stroke="#ddd" stroke-width="0.9" />
<line x1="401.4" y1="90.7" x2="404.0" y2="87.1" stroke="#ddd" stroke-width="0.9" />
<circle cx="387.5" cy="83.5" r="3.1" fill="#222"/>
<ellipse cx="441.0" cy="102.5" rx="9.0" ry="8.5" transform="rotate(19.6 441.0 102.5)" fill="#fff" stroke="#1a1a1a" stroke-width="2.2"/>
<ellipse cx="438.6" cy="101.7" rx="2.5" ry="6.3" transform="rotate(19.6 438.6 101.7)" fill="none" stroke="#1a1a1a" stroke-width="1.3"/>
<ellipse cx="443.4" cy="103.3" rx="3.1" ry="5.0" transform="rotate(19.6 443.4 103.3)" fill="none" stroke="#1a1a1a" stroke-width="1.1"/>
<path d="M435.4,238.1 L497.4,262.3 L499.7,256.4 L437.6,232.3 Z" stroke="#1a1a1a" stroke-width="1.8" fill="#fff" stroke-linejoin="round" stroke-linecap="round" />
<path d="M435.4,238.1 L454.0,245.4 L456.3,239.5 L437.6,232.3 Z" stroke="#1a1a1a" stroke-width="1.9" fill="#777" stroke-linejoin="round" stroke-linecap="round" />
<line x1="437.3" y1="237.8" x2="440.0" y2="234.2" stroke="#ddd" stroke-width="0.9" />
<line x1="439.4" y1="238.7" x2="442.1" y2="235.1" stroke="#ddd" stroke-width="0.9" />
<line x1="441.6" y1="239.5" x2="444.3" y2="235.9" stroke="#ddd" stroke-width="0.9" />
<line x1="443.7" y1="240.3" x2="446.4" y2="236.8" stroke="#ddd" stroke-width="0.9" />
<line x1="445.9" y1="241.2" x2="448.6" y2="237.6" stroke="#ddd" stroke-width="0.9" />
<line x1="448.0" y1="242.0" x2="450.7" y2="238.4" stroke="#ddd" stroke-width="0.9" />
<line x1="450.2" y1="242.8" x2="452.8" y2="239.3" stroke="#ddd" stroke-width="0.9" />
<circle cx="436.5" cy="235.2" r="3.1" fill="#222"/>
<ellipse cx="503.3" cy="261.2" rx="8.5" ry="8.1" transform="rotate(21.3 503.3 261.2)" fill="#fff" stroke="#1a1a1a" stroke-width="2.2"/>
<ellipse cx="501.0" cy="260.3" rx="2.4" ry="5.9" transform="rotate(21.3 501.0 260.3)" fill="none" stroke="#1a1a1a" stroke-width="1.3"/>
<ellipse cx="505.6" cy="262.1" rx="3.0" ry="4.7" transform="rotate(21.3 505.6 262.1)" fill="none" stroke="#1a1a1a" stroke-width="1.1"/>
<path d="M401.5,265.2 L463.9,289.4 L466.2,283.5 L403.7,259.4 Z" stroke="#1a1a1a" stroke-width="1.8" fill="#fff" stroke-linejoin="round" stroke-linecap="round" />
<path d="M401.5,265.2 L420.1,272.5 L422.4,266.6 L403.7,259.4 Z" stroke="#1a1a1a" stroke-width="1.9" fill="#777" stroke-linejoin="round" stroke-linecap="round" />
<line x1="403.4" y1="264.9" x2="406.1" y2="261.3" stroke="#ddd" stroke-width="0.9" />
<line x1="405.6" y1="265.7" x2="408.2" y2="262.2" stroke="#ddd" stroke-width="0.9" />
<line x1="407.7" y1="266.6" x2="410.4" y2="263.0" stroke="#ddd" stroke-width="0.9" />
<line x1="409.8" y1="267.4" x2="412.5" y2="263.8" stroke="#ddd" stroke-width="0.9" />
<line x1="412.0" y1="268.2" x2="414.7" y2="264.7" stroke="#ddd" stroke-width="0.9" />
<line x1="414.1" y1="269.1" x2="416.8" y2="265.5" stroke="#ddd" stroke-width="0.9" />
<line x1="416.3" y1="269.9" x2="419.0" y2="266.3" stroke="#ddd" stroke-width="0.9" />
<circle cx="402.6" cy="262.3" r="3.1" fill="#222"/>
<ellipse cx="469.8" cy="288.3" rx="8.5" ry="8.1" transform="rotate(21.2 469.8 288.3)" fill="#fff" stroke="#1a1a1a" stroke-width="2.2"/>
<ellipse cx="467.5" cy="287.4" rx="2.4" ry="5.9" transform="rotate(21.2 467.5 287.4)" fill="none" stroke="#1a1a1a" stroke-width="1.3"/>
<ellipse cx="472.1" cy="289.2" rx="3.0" ry="4.7" transform="rotate(21.2 472.1 289.2)" fill="none" stroke="#1a1a1a" stroke-width="1.1"/>
<line x1="513.0" y1="99.0" x2="537.0" y2="99.0" stroke="#1a1a1a" stroke-width="1.7" />
<line x1="513.0" y1="99.0" x2="468.0" y2="81.0" stroke="#1a1a1a" stroke-width="1.7" />
<line x1="513.0" y1="99.0" x2="450.0" y2="104.0" stroke="#1a1a1a" stroke-width="1.7" />
<line x1="517.0" y1="148.3" x2="537.0" y2="148.3" stroke="#1a1a1a" stroke-width="1.7" />
<line x1="517.0" y1="148.3" x2="300.0" y2="110.0" stroke="#1a1a1a" stroke-width="1.7" />
<line x1="517.5" y1="217.5" x2="538.0" y2="217.5" stroke="#1a1a1a" stroke-width="1.7" />
<line x1="517.5" y1="217.5" x2="494.7" y2="253.6" stroke="#1a1a1a" stroke-width="1.7" />
<line x1="517.5" y1="217.5" x2="438.3" y2="273.0" stroke="#1a1a1a" stroke-width="1.7" />
<line x1="83.0" y1="164.4" x2="122.0" y2="164.4" stroke="#1a1a1a" stroke-width="1.7" />
<line x1="122.0" y1="164.4" x2="168.3" y2="81.7" stroke="#1a1a1a" stroke-width="1.7" />
<line x1="122.0" y1="164.4" x2="143.5" y2="213.9" stroke="#1a1a1a" stroke-width="1.7" />
<line x1="80.5" y1="288.7" x2="120.0" y2="288.7" stroke="#1a1a1a" stroke-width="1.7" />
<line x1="120.0" y1="288.7" x2="200.0" y2="207.0" stroke="#1a1a1a" stroke-width="1.7" />
<line x1="173.3" y1="561.0" x2="170.0" y2="505.5" stroke="#1a1a1a" stroke-width="1.7" />
<path d="M260.0,561.0 L259.0,505.0 L229.0,445.0" stroke="#1a1a1a" stroke-width="1.7" fill="none" stroke-linejoin="round" stroke-linecap="round" />
<path d="M349.5,561.0 L349.5,506.0 L306.5,441.4" stroke="#1a1a1a" stroke-width="1.7" fill="none" stroke-linejoin="round" stroke-linecap="round" />
<path d="M409.0,561.0 L409.0,461.0 L341.0,401.5" stroke="#1a1a1a" stroke-width="1.7" fill="none" stroke-linejoin="round" stroke-linecap="round" />
<line x1="409.0" y1="461.0" x2="361.8" y2="446.0" stroke="#1a1a1a" stroke-width="1.7" />
<line x1="454.0" y1="561.0" x2="456.9" y2="433.5" stroke="#1a1a1a" stroke-width="1.7" />
<line x1="504.7" y1="561.0" x2="504.7" y2="442.2" stroke="#1a1a1a" stroke-width="1.7" />
<line x1="504.7" y1="442.2" x2="485.3" y2="367.8" stroke="#1a1a1a" stroke-width="1.7" />
<line x1="504.7" y1="442.2" x2="499.6" y2="346.6" stroke="#1a1a1a" stroke-width="1.7" />
<line x1="504.7" y1="442.2" x2="516.0" y2="380.0" stroke="#1a1a1a" stroke-width="1.7" />
<text x="544.8" y="156.5">2</text>
<text x="545" y="227.3">3</text>
<text x="62.5" y="297.2">0</text>
<text x="168" y="582.4">9</text>
<text x="255" y="584.6">8</text>
<text x="344.3" y="584.6">7</text>
<text x="401.8" y="584.6">6</text>
<text x="447.8" y="584.3">5</text>
<text x="499.3" y="584.6">4</text>
</svg>
</body></html>
